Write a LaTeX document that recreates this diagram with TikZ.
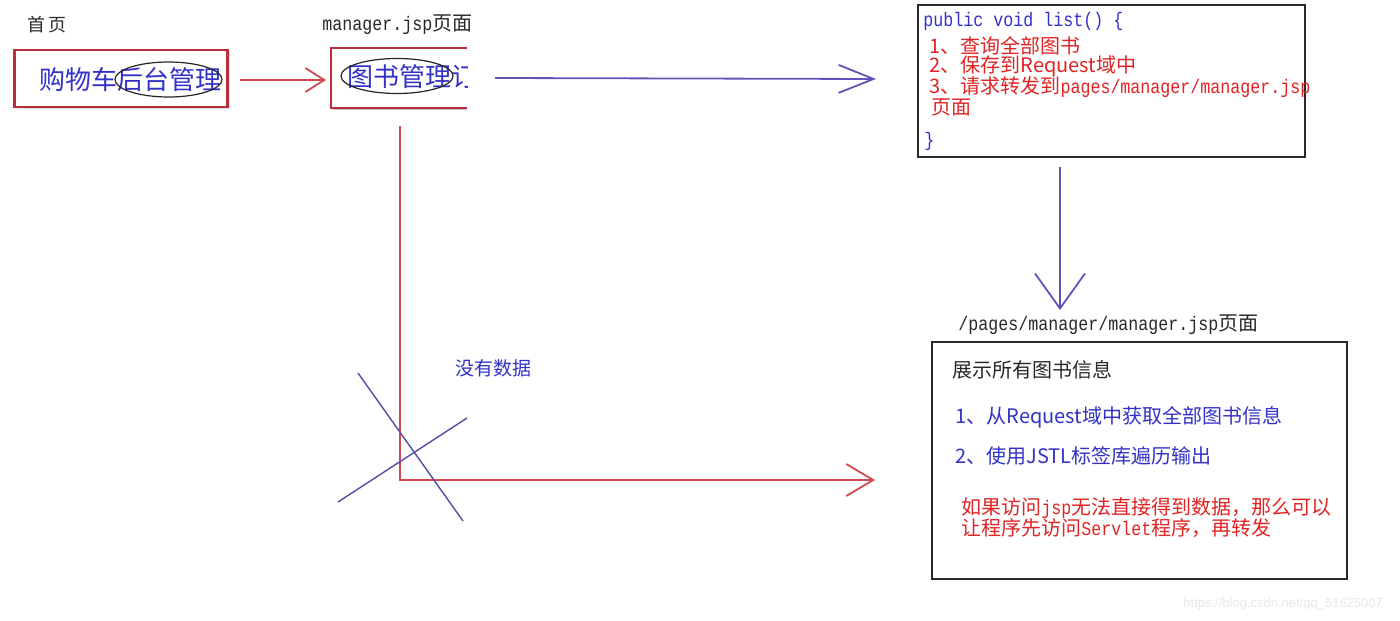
\documentclass[tikz,border=0pt]{standalone}
\usepackage{fontspec}
\setmainfont{Noto Sans CJK SC}
\newfontfamily\monofam[FakeStretch=0.85]{Liberation Mono}
\newfontfamily\wmfam{Liberation Sans}
\usetikzlibrary{arrows.meta,shapes.geometric,shadows}
\definecolor{tblue}{RGB}{50,50,200}
\definecolor{ablue}{RGB}{95,85,185}
\definecolor{rline}{RGB}{210,70,80}
\definecolor{rbox}{RGB}{185,45,60}
\definecolor{rtext}{RGB}{225,35,35}
\definecolor{dgray}{RGB}{40,40,40}
\newcommand\mtt[1]{{\monofam\fontsize{9.8pt}{11pt}\selectfont #1}}
\tikzset{
  lbl/.style={inner sep=0pt, anchor=west, font=\fontsize{10pt}{12pt}\selectfont},
  biglbl/.style={inner sep=0pt, anchor=west, text=tblue, font=\fontsize{13pt}{15pt}\selectfont},
  redbox/.style={draw=rbox, line width=1.1pt, fill=white, rectangle, inner sep=0pt,
     drop shadow={shadow xshift=1pt, shadow yshift=-1pt, opacity=0.25}},
  blackbox/.style={draw=dgray, line width=0.8pt, rectangle, inner sep=0pt},
  ovalmark/.style={draw=black!85, line width=0.6pt, ellipse, inner sep=0pt},
  redln/.style={draw=rline, line width=0.9pt},
  blueln/.style={draw=ablue, line width=0.9pt},
  crossln/.style={draw=ablue!90!black, line width=0.7pt},
}
\begin{document}
\begin{tikzpicture}[x=0.5pt,y=-0.5pt]
\useasboundingbox[fill=white] (0,0) rectangle (1400,620);

% page 1
\node[lbl, text=dgray, font=\fontsize{9pt}{11pt}\selectfont] (home) at (27,25) {首\,页};
\node[redbox, minimum width=106.5pt, minimum height=28.5pt] (box1) at (121,78.5) {};
\node[biglbl] (cart) at (39,80) {购物车后台管理};
\node[ovalmark, minimum width=53.5pt, minimum height=17.5pt] (ell1) at (168.5,79.5) {};

% page 2 (cut off at right)
\node[lbl, text=dgray] (mgrtitle) at (322,25) {\mtt{manager.jsp}页面};
\fill[black!25] (333,110) -- (467,110) -- (467,107) -- (333,107) -- cycle;
\draw[draw=rbox, line width=1.1pt] (467,48) -- (331,48) -- (331,108) -- (467,108);
\coordinate (box2w) at (331,78);
\begin{scope}
  \clip (320,40) rectangle (467,115);
  \node[biglbl] (booktxt) at (347,77) {图书管理订};
\end{scope}
\node[ovalmark, minimum width=56pt, minimum height=17.5pt] (ell2) at (397,76) {};

% arrow page1 -> page2
\coordinate (a1s) at (240,80);
\coordinate (a1e) at (326,80);
\draw[redln, -{Straight Barb[length=9.5pt, width=12pt]}] (a1s) -- (a1e);

% servlet box
\node[blackbox, minimum width=193.5pt, minimum height=76pt] (box3) at (1111.5,81) {};
\node[lbl, text=tblue] (sig) at (923,21) {\mtt{public void list() \{}};
\node[lbl, text=rtext] (s1) at (929,46) {1、查询全部图书};
\node[lbl, text=rtext] (s2) at (929,66) {2、保存到Request域中};
\node[lbl, text=rtext] (s3) at (929,87) {3、请求转发到\mtt{pages/manager/manager.jsp}};
\node[lbl, text=rtext] (s4) at (931,107) {页面};
\node[lbl, text=tblue] (close) at (924,141) {\mtt{\}}};

% blue arrow page2 -> servlet
\coordinate (a2s) at (495,78);
\coordinate (a2e) at (876,79);
\draw[blueln, -{Straight Barb[length=17.5pt, width=14pt]}] (a2s) -- (a2e);

% down arrow
\coordinate (a3s) at (1060,167);
\coordinate (a3e) at (1060,310);
\draw[blueln, -{Straight Barb[length=17.5pt, width=25pt]}] (a3s) -- (a3e);

% manager page box
\node[lbl, text=dgray] (pgtitle) at (958,325) {\mtt{/pages/manager/manager.jsp}页面};
\node[blackbox, minimum width=207.5pt, minimum height=118.5pt] (box4) at (1139.5,460.5) {};
\node[lbl, text=dgray] (show) at (952,370) {展示所有图书信息};
\node[lbl, text=tblue] (m1) at (955,417) {1、从Request域中获取全部图书信息};
\node[lbl, text=tblue] (m2) at (955,456) {2、使用JSTL标签库遍历输出};
\node[lbl, text=rtext] (n1) at (961,508) {如果访问\mtt{jsp}无法直接得到数据，那么可以};
\node[lbl, text=rtext] (n2) at (961,528) {让程序先访问\mtt{Servlet}程序，再转发};

% direct path (crossed out)
\coordinate (rs) at (400,126);
\coordinate (rc) at (400,480);
\coordinate (rt) at (875,480);
\draw[redln, -{Straight Barb[length=13.5pt, width=16pt]}] (rs) -- (rc) -- (rt);
\node[lbl, text=tblue, font=\fontsize{9.5pt}{11pt}\selectfont] (nodata) at (455,368) {没有数据};
\coordinate (xa1) at (358,373);
\coordinate (xa2) at (463,521);
\coordinate (xb1) at (338,502);
\coordinate (xb2) at (467,418);
\draw[crossln] (xa1) -- (xa2);
\draw[crossln] (xb1) -- (xb2);

% watermark
\node[inner sep=0pt, anchor=west, text=black!9, font=\wmfam\fontsize{6.5pt}{8pt}\selectfont] (wm) at (1183,604) {https://blog.csdn.net/qq\_51625007};
\end{tikzpicture}
\end{document}
